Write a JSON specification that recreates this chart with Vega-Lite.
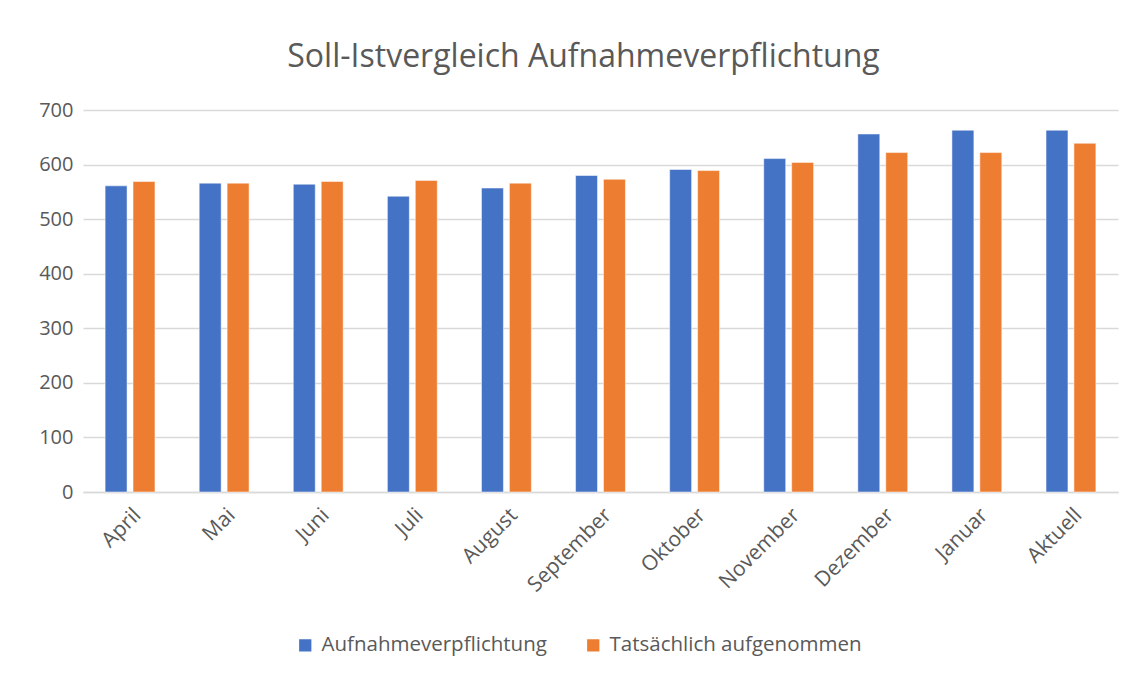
{
  "$schema": "https://vega.github.io/schema/vega-lite/v6.json",
  "width": 1035,
  "height": 382,
  "autosize": "none",
  "padding": {"left": 83, "top": 110, "right": 30, "bottom": 185},
  "background": "white",
  "config": {"font": "Open Sans", "view": {"stroke": null}},
  "title": {"text": "Soll-Istvergleich Aufnahmeverpflichtung", "fontSize": 32, "fontWeight": "normal", "color": "#595959", "offset": 26, "anchor": "middle", "dx": -17},
  "data": {"values": [
    {"monat": "April", "serie": "Aufnahmeverpflichtung", "wert": 561},
    {"monat": "April", "serie": "Tatsächlich aufgenommen", "wert": 569},
    {"monat": "Mai", "serie": "Aufnahmeverpflichtung", "wert": 566},
    {"monat": "Mai", "serie": "Tatsächlich aufgenommen", "wert": 566},
    {"monat": "Juni", "serie": "Aufnahmeverpflichtung", "wert": 564},
    {"monat": "Juni", "serie": "Tatsächlich aufgenommen", "wert": 569},
    {"monat": "Juli", "serie": "Aufnahmeverpflichtung", "wert": 542},
    {"monat": "Juli", "serie": "Tatsächlich aufgenommen", "wert": 571},
    {"monat": "August", "serie": "Aufnahmeverpflichtung", "wert": 557},
    {"monat": "August", "serie": "Tatsächlich aufgenommen", "wert": 566},
    {"monat": "September", "serie": "Aufnahmeverpflichtung", "wert": 580},
    {"monat": "September", "serie": "Tatsächlich aufgenommen", "wert": 573},
    {"monat": "Oktober", "serie": "Aufnahmeverpflichtung", "wert": 591},
    {"monat": "Oktober", "serie": "Tatsächlich aufgenommen", "wert": 589},
    {"monat": "November", "serie": "Aufnahmeverpflichtung", "wert": 611},
    {"monat": "November", "serie": "Tatsächlich aufgenommen", "wert": 604},
    {"monat": "Dezember", "serie": "Aufnahmeverpflichtung", "wert": 656},
    {"monat": "Dezember", "serie": "Tatsächlich aufgenommen", "wert": 622},
    {"monat": "Januar", "serie": "Aufnahmeverpflichtung", "wert": 663},
    {"monat": "Januar", "serie": "Tatsächlich aufgenommen", "wert": 622},
    {"monat": "Aktuell", "serie": "Aufnahmeverpflichtung", "wert": 663},
    {"monat": "Aktuell", "serie": "Tatsächlich aufgenommen", "wert": 639}
  ]},
  "mark": {"type": "bar", "stroke": "white", "strokeWidth": 0.5},
  "encoding": {
    "x": {"field": "monat", "type": "nominal", "sort": null, "title": null,
      "scale": {"paddingInner": 0.47, "paddingOuter": 0.235},
      "axis": {"labelAngle": -45, "labelFontSize": 21, "labelColor": "#595959", "ticks": false, "domainColor": "#d9d9d9", "domainWidth": 1.5, "labelPadding": 12, "labelLimit": 300}},
    "xOffset": {"field": "serie", "type": "nominal", "scale": {"paddingInner": 0.214}},
    "y": {"field": "wert", "type": "quantitative", "title": null,
      "scale": {"domain": [0, 700]},
      "axis": {"values": [0, 100, 200, 300, 400, 500, 600, 700], "labelFontSize": 20, "labelColor": "#595959", "ticks": false, "domain": false, "gridColor": "#d9d9d9", "gridWidth": 1.5, "labelPadding": 10}},
    "color": {"field": "serie", "type": "nominal", "title": null,
      "scale": {"domain": ["Aufnahmeverpflichtung", "Tatsächlich aufgenommen"], "range": ["#4472C4", "#ED7D31"]},
      "legend": {"orient": "none", "direction": "horizontal", "legendX": 212, "legendY": 525, "symbolType": "square", "symbolSize": 150, "symbolStrokeWidth": 0, "labelFontSize": 20.5, "labelColor": "#595959", "columnPadding": 36, "labelOffset": 6, "labelLimit": 400}}
  }
}
